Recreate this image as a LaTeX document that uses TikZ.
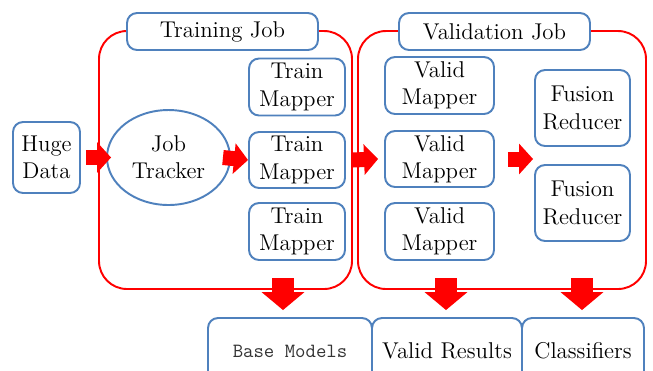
\documentclass[tikz,border=0pt]{standalone}
\usetikzlibrary{arrows.meta,shapes.geometric}
\definecolor{boxblue}{HTML}{4F81BD}

\begin{document}
\begin{tikzpicture}[x=0.02cm, y=-0.02cm,
  box/.style={draw=boxblue, line width=1.1pt, rounded corners=0.2cm, fill=white, align=center, inner sep=0pt, font=\fontsize{13}{15.5}\selectfont},
  frame/.style={draw=red, line width=1.1pt, rounded corners=0.56cm},
  rightarrow/.style={red, line width=0.3cm, -{Triangle[length=0.28cm, width=0.6cm]}},
  downarrow/.style={red, line width=0.44cm, -{Triangle[length=0.36cm, width=0.84cm]}}]
\useasboundingbox (0,0) rectangle (653,370);
% job frames
\draw [frame] (99,31) rectangle (352,289);
\draw [frame] (358,31) rectangle (646,289);
\node [box, minimum width=3.82cm, minimum height=0.74cm] (tj) at (222.5,31.5) {Training Job};
\node [box, minimum width=3.82cm, minimum height=0.74cm] (vj) at (494.5,31.5) {Validation Job};
% training job
\node [box, minimum width=1.34cm, minimum height=1.42cm] (hd) at (46.5,157.5) {Huge\\Data};
\node [box, ellipse, minimum width=2.46cm, minimum height=1.9cm] (jt) at (168.5,157.5) {Job\\Tracker};
\node [box, minimum width=1.92cm, minimum height=1.14cm] (tm1) at (297,87) {Train\\Mapper};
\node [box, minimum width=1.92cm, minimum height=1.12cm] (tm2) at (297,160) {Train\\Mapper};
\node [box, minimum width=1.92cm, minimum height=1.14cm] (tm3) at (297,231.5) {Train\\Mapper};
% validation job
\node [box, minimum width=2.18cm, minimum height=1.14cm] (vm1) at (439.5,85.5) {Valid\\Mapper};
\node [box, minimum width=2.18cm, minimum height=1.12cm] (vm2) at (439.5,159) {Valid\\Mapper};
\node [box, minimum width=2.18cm, minimum height=1.14cm] (vm3) at (439.5,231.5) {Valid\\Mapper};
\node [box, minimum width=1.9cm, minimum height=1.52cm] (fr1) at (582.5,108) {Fusion\\Reducer};
\node [box, minimum width=1.9cm, minimum height=1.52cm] (fr2) at (582.5,203) {Fusion\\Reducer};
% results
\node [box, minimum width=3.28cm, minimum height=1.32cm, font=\fontsize{11.5}{13}\ttfamily, text=black!80] (bm) at (290,351) {Base Models};
\node [box, minimum width=3.0cm, minimum height=1.32cm] (vr) at (447,351) {Valid Results};
\node [box, minimum width=2.44cm, minimum height=1.32cm] (cl) at (583,351) {Classifiers};
% arrows
\draw [rightarrow] ([xshift=0.1cm]hd.east) -- ([xshift=0.1cm]jt.west);
\draw [rightarrow] ([xshift=-0.16cm]jt.east) -- (tm2.west);
\draw [rightarrow] ([xshift=0.14cm]tm2.east) -- ([xshift=-0.12cm]vm2.west);
\draw [rightarrow] ([xshift=0.26cm]vm2.east) -- ([xshift=-0.02cm]fr1.west |- vm2.east);
\draw [downarrow] ([xshift=-0.14cm, yshift=0.78cm]bm.north) -- ([xshift=-0.14cm, yshift=0.14cm]bm.north);
\draw [downarrow] ([xshift=-0.02cm, yshift=0.78cm]vr.north) -- ([xshift=-0.02cm, yshift=0.14cm]vr.north);
\draw [downarrow] ([xshift=-0.02cm, yshift=0.78cm]cl.north) -- ([xshift=-0.02cm, yshift=0.14cm]cl.north);
\end{tikzpicture}
\end{document}
